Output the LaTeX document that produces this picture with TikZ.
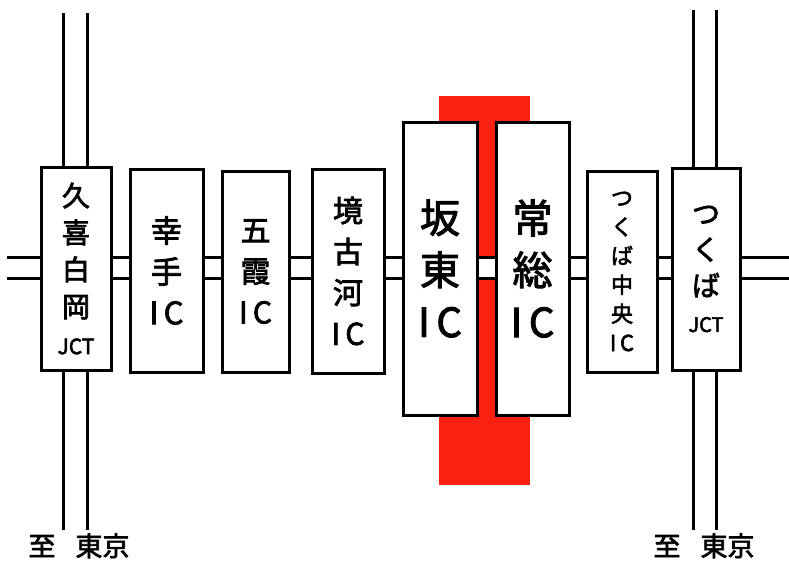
\documentclass[tikz,border=0pt]{standalone}
\usepackage{fontspec}
\setmainfont{Noto Sans CJK JP}
\newfontfamily\medfont{Noto Sans CJK JP}[FakeBold=2.5]
\definecolor{bandred}{RGB}{250,32,18}

\begin{document}
\begin{tikzpicture}[x=1pt,y=-1pt]

        \tikzstyle{icbox} = [draw, line width=3pt, fill=white, rectangle, align=center, inner sep=0];
        \tikzstyle{road} = [line width=3pt, double=white];
        \tikzstyle{dest} = [anchor=base, inner sep=0, font=\medfont\fontsize{27}{27}\selectfont];

        \useasboundingbox (0,0) rectangle (789,560);

        \fill[bandred] (439,96) rectangle (530,485);

        \coordinate (W) at (7,267.5);
        \coordinate (E) at (789,267.5);
        \coordinate (LT) at (75,13);
        \coordinate (LB) at (75,530);
        \coordinate (RT) at (704.5,10);
        \coordinate (RB) at (704.5,530);

        \draw [road, double distance=18pt] (W) -- (E);
        \draw [road, double distance=21pt] (LT) -- (LB);
        \draw [road, double distance=20pt] (RT) -- (RB);


        \node[icbox, minimum width=70, minimum height=203, font=\medfont\fontsize{28}{37}\selectfont] (KUKI) at (76,268.5)
            {久\\喜\\白\\岡\\{\fontsize{21}{30}\selectfont JCT}};
        \node[icbox, minimum width=73, minimum height=203, font=\medfont\fontsize{31}{41}\selectfont] (SATT) at (166.5,270.5)
            {幸\\手\\I\,C};
        \node[icbox, minimum width=67, minimum height=201, font=\medfont\fontsize{30}{41}\selectfont] (GOKA) at (255.5,271.5)
            {五\\霞\\I\,C};
        \node[icbox, minimum width=72, minimum height=204, font=\medfont\fontsize{30}{41}\selectfont] (SAKA) at (348,271)
            {境\\古\\河\\I\,C};
        \node[icbox, minimum width=74, minimum height=293, font=\medfont\fontsize{40}{52}\selectfont] (BAND) at (440,268.5)
            {坂\\東\\I\,C};
        \node[icbox, minimum width=73, minimum height=293, font=\medfont\fontsize{40}{52}\selectfont] (JOSO) at (532.5,268.5)
            {常\\総\\I\,C};
        \node[icbox, minimum width=70, minimum height=201, font=\medfont\fontsize{22}{29}\selectfont] (TCHU) at (622,271.5)
            {つ\\く\\ば\\中\\央\\I\,C};
        \node[icbox, minimum width=68, minimum height=202, font=\medfont\fontsize{28}{36}\selectfont] (TJCT) at (706,269)
            {つ\\く\\ば\\{\fontsize{20}{30}\selectfont JCT}};


        \node[dest] (TOL) at (79,556) {至\hspace{20pt}東京};
        \node[dest] (TOR) at (704,556) {至\hspace{20pt}東京};

\end{tikzpicture}
\end{document}
